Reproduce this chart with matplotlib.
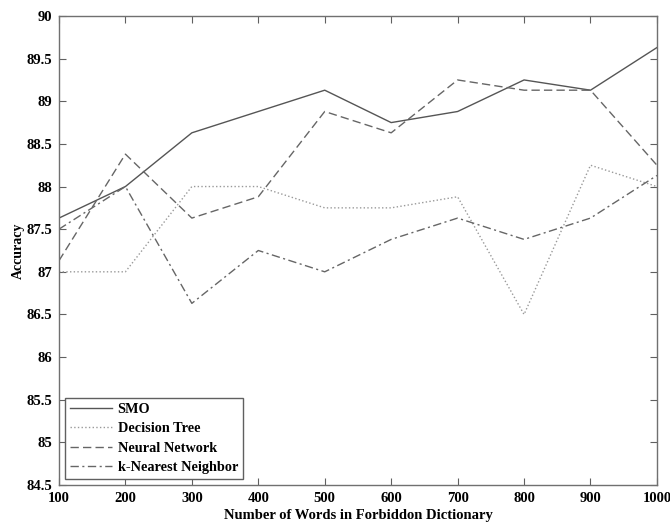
import matplotlib
matplotlib.use('Agg')
import matplotlib.pyplot as plt
import numpy as np

# Data
words = [100, 200, 300, 400, 500, 600, 700, 800, 900, 1000]
smo = [87.63, 88.0, 88.63, 88.88, 89.13, 88.75, 88.88, 89.25, 89.13, 89.63]
decision_tree = [87.0, 87.0, 88.0, 88.0, 87.75, 87.75, 87.88, 86.5, 88.25, 88.0]
neural_net = [87.13, 88.38, 87.63, 87.88, 88.88, 88.63, 89.25, 89.13, 89.13, 88.25]
knn = [87.5, 88.0, 86.63, 87.25, 87.0, 87.38, 87.63, 87.38, 87.63, 88.13]
y_ticks = [84.5, 85, 85.5, 86, 86.5, 87, 87.5, 88, 88.5, 89, 89.5, 90]
y_tick_labels = ['84.5', '85', '85.5', '86', '86.5', '87', '87.5', '88', '88.5', '89', '89.5', '90']

plt.rcParams['font.family'] = ['Liberation Serif', 'DejaVu Serif']
plt.rcParams['font.weight'] = 'bold'

fig = plt.figure(figsize=(6.7, 5.23), dpi=100)
ax = fig.add_axes([0.088, 0.0727, 0.8925, 0.8967])

ax.plot(words, smo, '-', color='#555555', linewidth=1.0, label='SMO')
ax.plot(words, decision_tree, ':', color='#999999', linewidth=1.0, label='Decision Tree')
ax.plot(words, neural_net, '--', color='#666666', linewidth=1.0, dashes=(6, 3), label='Neural Network')
ax.plot(words, knn, '-.', color='#666666', linewidth=1.0, dashes=(6, 2.5, 1.5, 2.5), label='k-Nearest Neighbor')

ax.set_xlim(100, 1000)
ax.set_ylim(84.5, 90)
ax.set_xticks(words)
ax.set_yticks(y_ticks)
ax.set_yticklabels(y_tick_labels)

ax.tick_params(direction='in', length=5, width=0.8, color='#606060',
               top=True, right=True, labelsize=10.5, pad=5)
for s in ax.spines.values():
    s.set_color('#707070')
    s.set_linewidth(1.0)

ax.set_xlabel('Number of Words in Forbiddon Dictionary', fontsize=10.5, fontweight='bold', labelpad=3)
ax.set_ylabel('Accuracy', fontsize=10, fontweight='bold', labelpad=1)

leg = ax.legend(loc='lower left', fontsize=10.3, fancybox=False, framealpha=1,
                edgecolor='#606060', handlelength=2.9, handletextpad=0.4,
                borderpad=0.35, labelspacing=0.42, borderaxespad=0.45)
leg.get_frame().set_linewidth(1.0)

fig.savefig('out.png', dpi=100)
